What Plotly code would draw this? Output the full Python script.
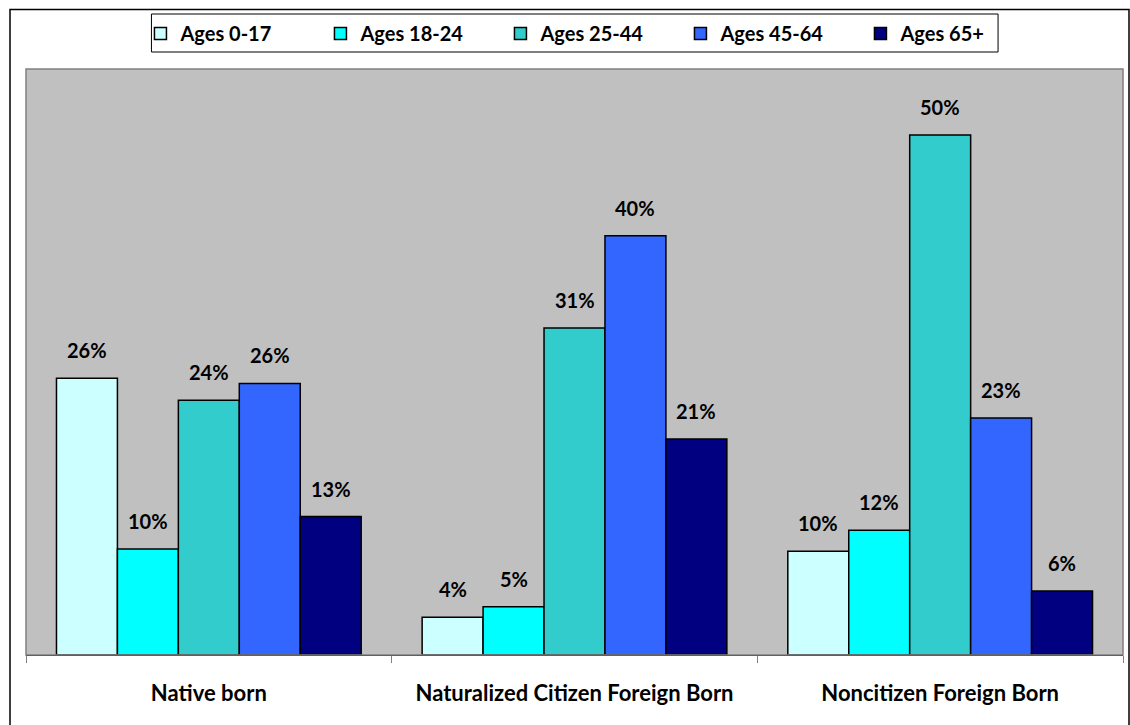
import plotly.graph_objects as go

categories = ["Native born", "Naturalized Citizen Foreign Born", "Noncitizen Foreign Born"]
series_names = ["Ages 0-17", "Ages 18-24", "Ages 25-44", "Ages 45-64", "Ages 65+"]
ages_0_17 = [26.4, 3.6, 9.9]
ages_18_24 = [10.1, 4.6, 11.9]
ages_25_44 = [24.3, 31.2, 49.6]
ages_45_64 = [25.9, 40.0, 22.6]
ages_65_plus = [13.2, 20.6, 6.1]
series_values = [ages_0_17, ages_18_24, ages_25_44, ages_45_64, ages_65_plus]
colors = ["#CCFFFF", "#00FFFF", "#33CCCC", "#3366FF", "#000080"]

FONT = "Lato"
W, H = 1130, 725
ML, MR, MT, MB = 25.5, 7, 69, 70
pw = W - ML - MR
ph = H - MT - MB
BARGAP = 0.1667
n_series = len(series_names)
bar_px = (pw / len(categories)) * (1 - BARGAP) / n_series

def px_x(px):
    return (px - ML) / pw

def px_y(py):
    return (H - MB - py) / ph

fig = go.Figure()
annotations = []
for j, (name, vals, col) in enumerate(zip(series_names, series_values, colors)):
    fig.add_trace(go.Bar(
        name=name, x=categories, y=vals,
        marker=dict(color=col, line=dict(color="black", width=1.5)),
        cliponaxis=False,
    ))
    for cat, v in zip(categories, vals):
        annotations.append(dict(
            x=cat, y=v, xref="x", yref="y",
            xshift=(j - (n_series - 1) / 2) * bar_px,
            yshift=14, yanchor="bottom", xanchor="center",
            text=f"<b>{round(v):d}%</b>", showarrow=False,
            font=dict(family=FONT, size=20, color="black"),
        ))

fig.update_layout(
    width=W, height=H,
    margin=dict(l=ML, r=MR, t=MT, b=MB, pad=0),
    paper_bgcolor="white",
    plot_bgcolor="#C0C0C0",
    barmode="group",
    bargap=BARGAP,
    bargroupgap=0,
    font=dict(family=FONT, size=18, color="black"),
    showlegend=True,
    legend=dict(
        orientation="h",
        x=px_x(140), xanchor="left",
        y=px_y(14), yanchor="top",
        borderwidth=0,
        bgcolor="rgba(0,0,0,0)",
        font=dict(family=FONT, size=20, color="black", weight="bold"),
        entrywidth=135, entrywidthmode="pixels",
        itemwidth=30,
        traceorder="normal",
    ),
    xaxis=dict(
        showline=True, linecolor="black", linewidth=1,
        ticks="outside", tickson="boundaries", ticklen=7, tickcolor="#808080",
        tickfont=dict(family=FONT, size=22, color="black", weight="bold"),
        ticklabelstandoff=19,
        showgrid=False, fixedrange=True,
    ),
    yaxis=dict(
        range=[0, 55.9], visible=False, showgrid=False, fixedrange=True,
    ),
    annotations=annotations,
    shapes=[
        dict(type="rect", xref="paper", yref="paper", x0=0, x1=1, y0=0, y1=1,
             line=dict(color="#808080", width=1.5), fillcolor="rgba(0,0,0,0)", layer="above"),
        dict(type="rect", xref="paper", yref="paper",
             x0=px_x(9.5), x1=px_x(1129), y0=px_y(730), y1=px_y(9.5),
             line=dict(color="black", width=1.5), fillcolor="rgba(0,0,0,0)"),
        dict(type="rect", xref="paper", yref="paper",
             x0=px_x(151), x1=px_x(998), y0=px_y(52), y1=px_y(14),
             line=dict(color="black", width=1), fillcolor="white", layer="below"),
    ],
)

fig.write_html("out.html")
